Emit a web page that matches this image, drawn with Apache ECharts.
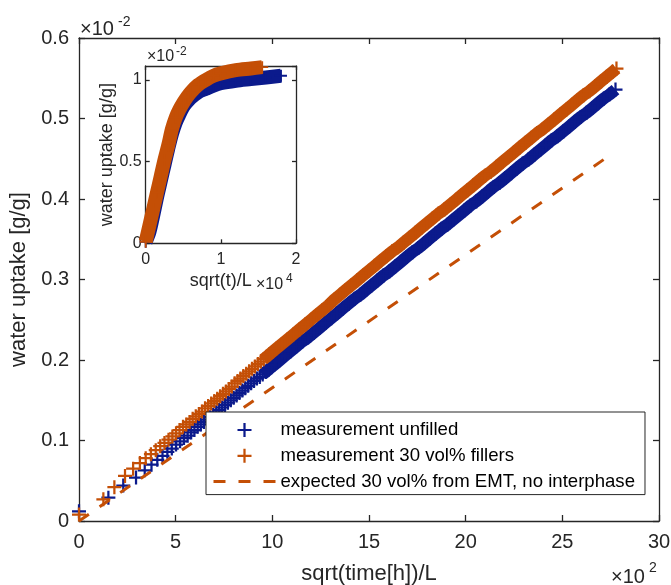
<!DOCTYPE html>
<html>
<head>
<meta charset="utf-8">
<script src="https://cdn.jsdelivr.net/npm/echarts@6/dist/echarts.min.js"></script>
<style>
html,body{margin:0;padding:0;background:#fff;}
#chart{width:671px;height:585px;}
</style>
</head>
<body>
<div id="chart"></div>
<script>
// ---- Main plot data (x in 1e2, y in 1e-2) ----
const unfilledX = [0, 1.52, 2.29, 2.95, 3.4, 3.75, 4.05, 4.32, 4.57, 4.8, 5.02, 5.23, 5.43, 5.62, 5.8, 5.97, 6.14, 6.3, 6.46, 6.62,
  6.78, 6.94, 7.1, 7.25, 7.4, 7.55, 7.7, 7.85, 8.0, 8.15, 8.3, 8.45, 8.6, 8.75, 8.9, 9.05, 9.2, 9.35, 9.5, 9.65, 9.8, 9.95, 10.1,
  10.35, 10.65, 10.95, 11.25, 11.55, 11.85, 12.15, 12.45, 12.75, 13.05, 13.35, 13.65, 13.95,
  14.25, 14.55, 14.85, 15.15, 15.45, 15.75, 16.05, 16.35, 16.65, 16.95, 17.25, 17.55, 17.85, 18.15, 18.45, 18.75, 19.05, 19.35, 19.65,
  19.95, 20.25, 20.55, 20.85, 21.15, 21.45, 21.75, 22.05, 22.35, 22.65, 22.95, 23.25, 23.55, 23.85, 24.15, 24.45, 24.75, 25.05, 25.35,
  25.65, 25.95, 26.25, 26.55, 26.85, 27.15, 27.45, 27.75];
const unfilledY = [0.012, 0.029, 0.044, 0.054, 0.063, 0.070, 0.076, 0.081, 0.086, 0.090, 0.095, 0.099, 0.103, 0.106, 0.110, 0.113, 0.117, 0.120, 0.123, 0.126,
  0.129, 0.132, 0.135, 0.138, 0.141, 0.144, 0.147, 0.150, 0.153, 0.156, 0.159, 0.162, 0.165, 0.168, 0.171, 0.174, 0.177, 0.179, 0.182, 0.185, 0.188, 0.191, 0.194,
  0.199, 0.205, 0.211, 0.217, 0.223, 0.228, 0.234, 0.240, 0.246, 0.252, 0.258, 0.264, 0.270,
  0.276, 0.281, 0.287, 0.293, 0.299, 0.305, 0.310, 0.316, 0.322, 0.328, 0.334, 0.339, 0.345, 0.351, 0.357, 0.363, 0.368, 0.374, 0.380,
  0.386, 0.392, 0.397, 0.403, 0.409, 0.415, 0.420, 0.426, 0.432, 0.438, 0.444, 0.449, 0.455, 0.461, 0.467, 0.473, 0.478, 0.484, 0.490,
  0.496, 0.502, 0.507, 0.513, 0.519, 0.525, 0.530, 0.536];

const filledX = [0, 1.26, 1.83, 2.38, 2.8, 3.15, 3.45, 3.72, 3.97, 4.2, 4.42, 4.63, 4.83, 5.02, 5.2, 5.38, 5.55, 5.72, 5.88, 6.04,
  6.2, 6.36, 6.52, 6.68, 6.84, 7.0, 7.15, 7.3, 7.45, 7.6, 7.75, 7.9, 8.05, 8.2, 8.35, 8.5, 8.65, 8.8, 8.95, 9.1, 9.25, 9.4, 9.55,
  9.7, 9.85, 10.0, 10.2, 10.5, 10.8, 11.1, 11.4, 11.7, 12.0, 12.3, 12.6, 12.9, 13.2, 13.5, 13.8, 14.1, 14.4, 14.7, 15.0,
  15.3, 15.6, 15.9, 16.2, 16.5, 16.8, 17.1, 17.4, 17.7, 18.0, 18.3, 18.6, 18.9, 19.2, 19.5, 19.8, 20.1, 20.4, 20.7, 21.0, 21.3, 21.6,
  21.9, 22.2, 22.5, 22.8, 23.1, 23.4, 23.7, 24.0, 24.3, 24.6, 24.9, 25.2, 25.5, 25.8, 26.1, 26.4, 26.7, 27.0, 27.3, 27.6, 27.8];
const filledY = [0.008, 0.027, 0.042, 0.056, 0.065, 0.072, 0.078, 0.083, 0.088, 0.093, 0.097, 0.101, 0.105, 0.109, 0.113, 0.117, 0.120, 0.123, 0.127, 0.130,
  0.133, 0.136, 0.140, 0.143, 0.146, 0.149, 0.152, 0.155, 0.158, 0.161, 0.164, 0.167, 0.171, 0.174, 0.177, 0.180, 0.183, 0.186, 0.189, 0.192, 0.195, 0.198, 0.201,
  0.204, 0.207, 0.210, 0.214, 0.220, 0.226, 0.232, 0.238, 0.244, 0.250, 0.256, 0.262, 0.268, 0.275, 0.281, 0.287, 0.293, 0.299, 0.305, 0.311,
  0.317, 0.323, 0.329, 0.335, 0.340, 0.346, 0.352, 0.358, 0.364, 0.370, 0.376, 0.382, 0.387, 0.393, 0.399, 0.405, 0.411, 0.417, 0.423, 0.429, 0.434, 0.440,
  0.446, 0.452, 0.458, 0.464, 0.470, 0.476, 0.482, 0.487, 0.493, 0.499, 0.505, 0.511, 0.517, 0.523, 0.529, 0.534, 0.540, 0.546, 0.552, 0.558, 0.562];

const emtX = [0, 27.5];
const emtY = [0, 0.455];

// x from which the markers merge into a solid band
const bandStartX = 9.5;

// ---- Inset data (x in 1e4, y in 1e-2) ----
const insetUnfilledX = [0, 0.05, 0.1, 0.15, 0.2, 0.25, 0.3, 0.35, 0.4, 0.45, 0.5, 0.55, 0.6, 0.7, 0.8, 0.9, 1.0, 1.2, 1.4, 1.6, 1.8];
const insetUnfilledY = [0.01, 0.07, 0.17, 0.28, 0.38, 0.48, 0.58, 0.67, 0.74, 0.79, 0.835, 0.865, 0.89, 0.925, 0.945, 0.965, 0.98, 0.995, 1.005, 1.015, 1.025];
const insetFilledX = [0, 0.05, 0.1, 0.15, 0.2, 0.25, 0.3, 0.35, 0.4, 0.45, 0.5, 0.55, 0.6, 0.7, 0.8, 0.9, 1.0, 1.2, 1.4, 1.55];
const insetFilledY = [0.01, 0.11, 0.21, 0.31, 0.41, 0.51, 0.60, 0.70, 0.77, 0.82, 0.86, 0.895, 0.925, 0.97, 1.0, 1.025, 1.04, 1.06, 1.07, 1.078];

// ---- Tick labels / texts ----
const mainXTicks = [0, 5, 10, 15, 20, 25, 30];
const mainYTicks = [0, 0.1, 0.2, 0.3, 0.4, 0.5, 0.6];
const insetXTicks = [0, 1, 2];
const insetYTicks = [0, 0.5, 1];
const legendNames = ['measurement unfilled', 'measurement 30 vol% fillers', 'expected 30 vol% from EMT, no interphase'];

const BLUE = '#0B1A8C';
const ORANGE = '#C44F06';
const AX = '#262626';
const FONT = '"Liberation Sans", Arial, Helvetica, sans-serif';
const PLUS = 'path://M4.2,0H5.8V4.2H10V5.8H5.8V10H4.2V5.8H0V4.2H4.2Z';

const zip = (xs, ys) => xs.map((x, i) => [x, ys[i]]);
const unfilled = zip(unfilledX, unfilledY);
const filled = zip(filledX, filledY);
const emt = zip(emtX, emtY);
const insetUnfilled = zip(insetUnfilledX, insetUnfilledY);
const insetFilled = zip(insetFilledX, insetFilledY);

const fmt = (ticks) => (v) => {
  const hit = ticks.find(t => Math.abs(t - v) < 1e-9);
  return hit === undefined ? '' : String(hit);
};

function axisCommon(grid, extra) {
  return Object.assign({
    gridIndex: grid, type: 'value',
    axisLine: { show: true, onZero: false, lineStyle: { color: AX, width: 1.3 } },
    axisTick: { show: true, inside: true, length: 6, lineStyle: { color: AX, width: 1.3 } },
    splitLine: { show: false },
    axisLabel: { show: false }
  }, extra);
}
const insetTick = { show: true, inside: true, length: 4, lineStyle: { color: AX, width: 1.3 } };

const chart = echarts.init(document.getElementById('chart'), null, { renderer: 'canvas' });
const option = {
  animation: false,
  backgroundColor: '#fff',
  textStyle: { fontFamily: FONT },
  grid: [
    { left: 79, top: 38, width: 580, height: 483, containLabel: false, outerBoundsMode: 'none' },
    { left: 145.7, top: 66, width: 150.3, height: 177.3, show: true, backgroundColor: '#fff', borderWidth: 0,
      containLabel: false, outerBoundsMode: 'none' }
  ],
  xAxis: [
    axisCommon(0, { position: 'bottom', min: 0, max: 30, interval: 5,
      axisLabel: { show: true, margin: 11, fontSize: 20, color: AX, fontFamily: FONT, formatter: fmt(mainXTicks) },
      name: 'sqrt(time[h])/L', nameLocation: 'middle', nameGap: 42,
      nameTextStyle: { fontSize: 22, color: AX, fontFamily: FONT } }),
    axisCommon(0, { position: 'top', min: 0, max: 30, interval: 5 }),
    axisCommon(1, { position: 'bottom', min: 0, max: 2, interval: 1, axisTick: insetTick,
      axisLabel: { show: true, margin: 8, fontSize: 16, color: AX, fontFamily: FONT, formatter: fmt(insetXTicks) },
      name: 'sqrt(t)/L', nameLocation: 'middle', nameGap: 29,
      nameTextStyle: { fontSize: 18, color: AX, fontFamily: FONT } }),
    axisCommon(1, { position: 'top', min: 0, max: 2, interval: 1, axisTick: insetTick })
  ],
  yAxis: [
    axisCommon(0, { position: 'left', min: 0, max: 0.6, interval: 0.1,
      axisLabel: { show: true, margin: 10, fontSize: 20, color: AX, fontFamily: FONT, formatter: fmt(mainYTicks) },
      name: 'water uptake [g/g]', nameLocation: 'middle', nameGap: 48,
      nameTextStyle: { fontSize: 22, color: AX, fontFamily: FONT } }),
    axisCommon(0, { position: 'right', min: 0, max: 0.6, interval: 0.1 }),
    axisCommon(1, { position: 'left', min: 0, max: 1.085, interval: 0.5, axisTick: insetTick,
      axisLabel: { show: true, margin: 4, fontSize: 16, color: AX, fontFamily: FONT, formatter: fmt(insetYTicks), showMaxLabel: false },
      name: 'water uptake [g/g]', nameLocation: 'middle', nameGap: 22,
      nameTextStyle: { fontSize: 18, color: AX, fontFamily: FONT } }),
    axisCommon(1, { position: 'right', min: 0, max: 1.085, interval: 0.5, axisTick: insetTick })
  ],
  legend: {
    orient: 'vertical', left: 206, top: 412,
    itemWidth: 62, itemHeight: 14, itemGap: 5.8,
    padding: [8, 10, 3, 6],
    backgroundColor: '#fff', borderColor: AX, borderWidth: 1, borderRadius: 0,
    textStyle: { fontSize: 18.6, color: '#000', fontFamily: FONT, lineHeight: 20 },
    lineStyle: { width: 3 },
    selectedMode: false,
    z: 10,
    data: [
      { name: legendNames[0], icon: PLUS, itemStyle: { color: BLUE } },
      { name: legendNames[1], icon: PLUS, itemStyle: { color: ORANGE } },
      { name: legendNames[2], itemStyle: { opacity: 0, color: 'rgba(0,0,0,0)' } }
    ]
  },
  graphic: [
    { type: 'text', left: 80, top: 19, style: { text: '×10', font: '20px ' + FONT, fill: AX } },
    { type: 'text', left: 118, top: 15, style: { text: '-2', font: '14px ' + FONT, fill: AX } },
    { type: 'text', left: 611, top: 567, style: { text: '×10', font: '20px ' + FONT, fill: AX } },
    { type: 'text', left: 649, top: 561, style: { text: '2', font: '14px ' + FONT, fill: AX } },
    { type: 'text', left: 147, top: 49, style: { text: '×10', font: '16px ' + FONT, fill: AX } },
    { type: 'text', left: 176, top: 46, style: { text: '-2', font: '12px ' + FONT, fill: AX } },
    { type: 'text', left: 256, top: 277, style: { text: '×10', font: '16px ' + FONT, fill: AX } },
    { type: 'text', left: 286, top: 273, style: { text: '4', font: '12px ' + FONT, fill: AX } }
  ],
  series: [
    { name: 'unfilled band', type: 'line', xAxisIndex: 0, yAxisIndex: 0, silent: true,
      data: unfilled.filter(p => p[0] >= bandStartX), symbol: 'none',
      lineStyle: { color: BLUE, width: 12, cap: 'butt' }, itemStyle: { color: BLUE }, z: 2 },
    { name: legendNames[0], type: 'scatter', xAxisIndex: 0, yAxisIndex: 0,
      data: unfilled, symbol: PLUS, symbolSize: 14, symbolKeepAspect: true,
      itemStyle: { color: BLUE, opacity: 1 }, z: 3 },
    { name: 'filled band', type: 'line', xAxisIndex: 0, yAxisIndex: 0, silent: true,
      data: filled.filter(p => p[0] >= bandStartX), symbol: 'none',
      lineStyle: { color: ORANGE, width: 12, cap: 'butt' }, itemStyle: { color: ORANGE }, z: 4 },
    { name: legendNames[1], type: 'scatter', xAxisIndex: 0, yAxisIndex: 0,
      data: filled, symbol: PLUS, symbolSize: 14, symbolKeepAspect: true,
      itemStyle: { color: ORANGE, opacity: 1 }, z: 5 },
    { name: legendNames[2], type: 'line', xAxisIndex: 0, yAxisIndex: 0,
      data: emt, symbol: 'none', showSymbol: false,
      lineStyle: { color: ORANGE, width: 3, type: [12, 13], cap: 'butt' }, itemStyle: { color: ORANGE }, z: 6 },
    { name: 'inset unfilled', type: 'line', xAxisIndex: 2, yAxisIndex: 2, silent: true,
      data: insetUnfilled, symbol: PLUS, symbolSize: 12, showSymbol: true, smooth: 0.3,
      lineStyle: { color: BLUE, width: 14, cap: 'butt', join: 'round' }, itemStyle: { color: BLUE }, z: 7 },
    { name: 'inset filled', type: 'line', xAxisIndex: 2, yAxisIndex: 2, silent: true,
      data: insetFilled, symbol: PLUS, symbolSize: 12, showSymbol: true, smooth: 0.3,
      lineStyle: { color: ORANGE, width: 14, cap: 'butt', join: 'round' }, itemStyle: { color: ORANGE }, z: 8 }
  ]
};
chart.setOption(option);
</script>
</body>
</html>
